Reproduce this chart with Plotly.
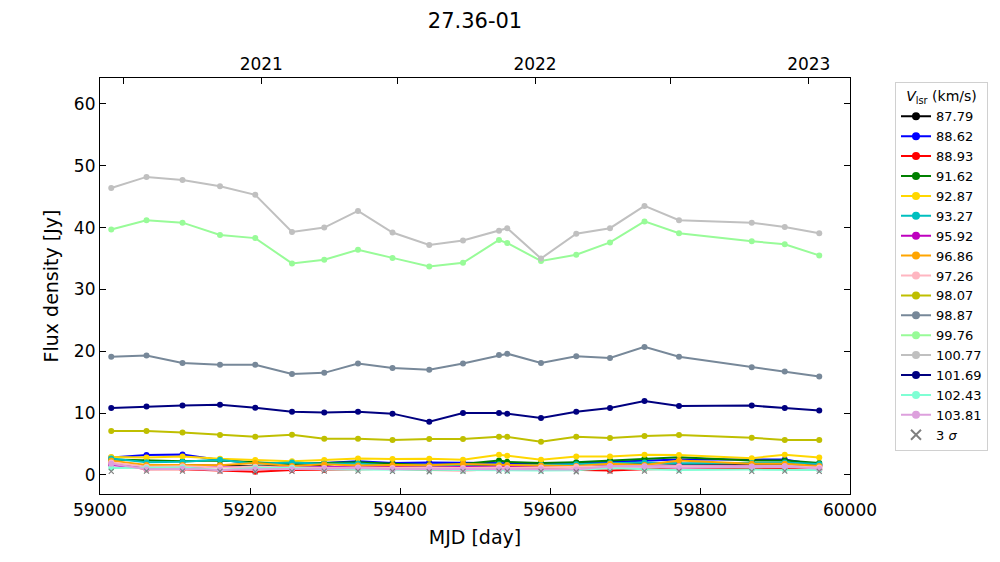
import plotly.graph_objects as go

mjd = [59015, 59062, 59110, 59160, 59207, 59256, 59299, 59344, 59390, 59439, 59484,
       59532, 59543, 59588, 59635, 59680, 59726, 59772, 59869, 59913, 59959]

labels = ["87.79", "88.62", "88.93", "91.62", "92.87", "93.27", "95.92", "96.86",
          "97.26", "98.07", "98.87", "99.76", "100.77", "101.69", "102.43", "103.81"]
colors = ["#000000", "#0000FF", "#FF0000", "#008000", "#FFD700", "#00BFBF", "#BF00BF", "#FFA500",
          "#FFB6C1", "#BFBF00", "#778899", "#98FB98", "#C0C0C0", "#000080", "#7FFFD4", "#DDA0DD"]

v8779 = [1.8, 1.3, 1.6, 1.5, 1.35, 1.45, 1.6, 2.1, 1.4, 1.4, 1.4, 1.45, 1.5, 1.35, 1.4, 1.6, 1.9, 1.8, 1.75, 1.8, 1.6]
v8862 = [2.8, 3.2, 3.3, 2.4, 1.9, 1.8, 1.9, 2.2, 1.9, 2.0, 1.95, 1.9, 1.85, 1.8, 1.9, 2.1, 2.3, 2.5, 2.5, 2.5, 1.6]
v8893 = [1.9, 0.9, 0.9, 0.7, 0.5, 0.8, 0.8, 0.9, 1.0, 0.8, 0.75, 0.9, 0.85, 0.9, 0.8, 0.7, 0.9, 1.0, 1.0, 0.95, 0.85]
v9162 = [2.5, 2.3, 2.2, 2.3, 2.0, 1.75, 1.9, 2.05, 1.8, 1.6, 1.75, 2.3, 2.1, 1.9, 2.05, 2.3, 2.65, 2.85, 2.3, 2.3, 1.9]
v9287 = [2.9, 2.8, 2.95, 2.6, 2.4, 2.2, 2.4, 2.65, 2.55, 2.6, 2.45, 3.25, 3.1, 2.45, 2.95, 2.95, 3.25, 3.2, 2.7, 3.25, 2.8]
v9327 = [2.65, 2.05, 2.1, 2.45, 1.8, 2.0, 1.8, 1.85, 1.5, 1.5, 1.6, 1.7, 1.6, 1.6, 1.7, 1.9, 2.0, 1.85, 1.9, 2.0, 1.75]
v9592 = [1.6, 1.1, 1.2, 1.3, 1.1, 1.2, 1.3, 1.3, 1.3, 1.2, 1.3, 1.3, 1.25, 1.2, 1.3, 1.4, 1.4, 1.45, 1.4, 1.35, 1.3]
v9686 = [2.3, 1.6, 1.6, 1.55, 1.9, 1.45, 1.7, 1.5, 1.6, 1.55, 1.75, 1.55, 1.6, 1.5, 1.45, 1.8, 1.6, 2.3, 1.8, 1.8, 1.45]
v9726 = [2.0, 1.3, 1.4, 1.2, 1.3, 1.2, 1.1, 1.2, 1.1, 1.2, 1.1, 1.2, 1.1, 1.2, 1.3, 1.4, 1.35, 1.4, 1.3, 1.4, 1.2]
v9807 = [7.1, 7.1, 6.85, 6.45, 6.15, 6.5, 5.85, 5.85, 5.65, 5.8, 5.8, 6.15, 6.15, 5.35, 6.15, 5.95, 6.3, 6.45, 6.0, 5.65, 5.65]
v9887 = [19.1, 19.3, 18.1, 17.8, 17.8, 16.3, 16.5, 18.0, 17.3, 17.0, 18.0, 19.4, 19.6, 18.1, 19.2, 18.9, 20.7, 19.1, 17.4, 16.7, 15.9]
v9976 = [39.7, 41.2, 40.8, 38.8, 38.3, 34.2, 34.8, 36.4, 35.1, 33.7, 34.3, 38.0, 37.5, 34.6, 35.6, 37.6, 41.0, 39.1, 37.8, 37.3, 35.5]
v10077 = [46.4, 48.2, 47.7, 46.7, 45.3, 39.3, 40.0, 42.7, 39.2, 37.2, 37.9, 39.5, 39.9, 35.0, 39.0, 39.9, 43.5, 41.2, 40.8, 40.1, 39.1]
v10169 = [10.8, 11.05, 11.2, 11.35, 10.85, 10.2, 10.1, 10.2, 9.9, 8.6, 10.0, 10.0, 9.9, 9.2, 10.2, 10.8, 11.95, 11.15, 11.2, 10.8, 10.4]
v10243 = [1.1, 1.1, 1.2, 0.8, 1.1, 1.1, 0.9, 0.85, 0.8, 0.75, 0.7, 0.75, 0.7, 0.7, 0.75, 1.1, 0.9, 0.8, 0.85, 0.85, 0.8]
v10381 = [1.8, 0.9, 1.0, 0.8, 0.9, 0.9, 1.0, 1.1, 0.9, 0.95, 0.9, 0.9, 0.9, 0.9, 0.85, 1.4, 1.4, 1.1, 1.35, 1.4, 1.0]
sigma3 = [0.55, 0.6, 0.6, 0.55, 0.5, 0.55, 0.6, 0.6, 0.55, 0.5, 0.55, 0.6, 0.6, 0.55, 0.5, 0.55, 0.6, 0.6, 0.55, 0.6, 0.55]

series = [v8779, v8862, v8893, v9162, v9287, v9327, v9592, v9686,
          v9726, v9807, v9887, v9976, v10077, v10169, v10243, v10381]

year_vals = [59031, 59215, 59396, 59580, 59761, 59945]
year_text = ["", "2021", "", "2022", "", "2023"]

xr = [59000, 60000]
yr = [-3.1, 64.2]
font = "DejaVu Sans, Liberation Sans, sans-serif"

fig = go.Figure()
for lab, col, vals in zip(labels, colors, series):
    fig.add_trace(go.Scatter(x=mjd, y=vals, mode="lines+markers", name=lab,
                             legendgroup=lab, showlegend=False,
                             line=dict(color=col, width=2),
                             marker=dict(color=col, size=6)))
fig.add_trace(go.Scatter(x=mjd, y=sigma3, mode="markers", name="3 <i>σ</i>",
                         legendgroup="sig", showlegend=False,
                         marker=dict(symbol="x-thin", color="gray", size=5,
                                     line=dict(color="gray", width=1.2))))
# legend entries (drawn larger, as in the reference legend)
for lab, col in zip(labels, colors):
    fig.add_trace(go.Scatter(x=[None], y=[None], mode="lines+markers", name=lab,
                             legendgroup=lab, line=dict(color=col, width=2),
                             marker=dict(color=col, size=8)))
fig.add_trace(go.Scatter(x=[None], y=[None], mode="markers", name="3 <i>σ</i>",
                         legendgroup="sig",
                         marker=dict(symbol="x-thin", color="gray", size=10,
                                     line=dict(color="gray", width=2))))
fig.add_trace(go.Scatter(x=xr, y=[None, None], xaxis="x2", showlegend=False,
                         hoverinfo="skip", mode="lines"))

axis_common = dict(showline=True, linecolor="black", linewidth=1.2, ticks="inside",
                   ticklen=6, tickcolor="black", showgrid=False, zeroline=False,
                   automargin=False,
                   tickfont=dict(size=17, color="black", family=font))

fig.update_layout(
    width=1000, height=562,
    paper_bgcolor="white", plot_bgcolor="white",
    margin=dict(l=100, r=150, t=78, b=68),
    font=dict(family=font, color="black"),
    title=dict(text="27.36-01", x=0.475, xanchor="center", y=0.9626, yanchor="middle",
               font=dict(size=21, family=font, color="black")),
    xaxis=dict(range=xr, tickvals=[59000, 59200, 59400, 59600, 59800, 60000],
               ticktext=["59000", "59200", "59400", "59600", "59800", "60000"],
               title=dict(text="MJD [day]", font=dict(size=19, family=font), standoff=12),
               mirror=False, **axis_common),
    xaxis2=dict(range=xr, overlaying="x", side="top", tickvals=year_vals, ticktext=year_text,
                anchor="y", mirror=False, **axis_common),
    yaxis=dict(range=yr, tickvals=[0, 10, 20, 30, 40, 50, 60],
               title=dict(text="Flux density [Jy]", font=dict(size=19, family=font), standoff=10),
               mirror="ticks", **axis_common),
    legend=dict(x=1.06, y=0.99, xanchor="left", yanchor="top",
                bordercolor="#D0D0D0", borderwidth=1, bgcolor="white",
                font=dict(size=13, family=font, color="black"),
                itemwidth=30, tracegroupgap=0,
                title=dict(text="<i>V</i><sub>lsr</sub> (km/s)", side="top center",
                           font=dict(size=14, family=font))),
    showlegend=True,
)

fig.write_html("out.html", config={"displayModeBar": False},
               post_script="document.body.style.margin='0';document.body.style.overflow='hidden';")
